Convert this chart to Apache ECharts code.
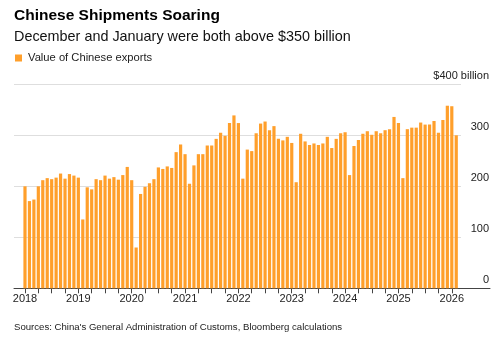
<!DOCTYPE html>
<html>
<head>
<meta charset="utf-8">
<script src="https://cdn.jsdelivr.net/npm/echarts@6/dist/echarts.min.js"></script>
<style>
html,body{margin:0;padding:0;background:#fff;}
#chart{width:500px;height:338px;}
</style>
</head>
<body>
<div id="chart"></div>
<script>
// Year tick labels (one label per January)
const yearLabels = ['2018','2019','2020','2021','2022','2023','2024','2025','2026'];
// Monthly value of Chinese exports, $ billion (Jan..Dec of each year)
const exports2018 = [200, 171, 174, 200, 212, 216, 214, 217, 225, 215, 224, 221];
const exports2019 = [217, 135, 198, 194, 214, 212, 221, 215, 218, 213, 222, 238];
const exports2020 = [212, 80, 185, 199, 206, 214, 237, 234, 239, 236, 267, 282];
const exports2021 = [263, 205, 241, 263, 263, 280, 280, 293, 305, 299, 324, 339];
const exports2022 = [324, 215, 272, 269, 304, 323, 327, 310, 318, 293, 290, 297];
const exports2023 = [285, 208, 303, 288, 281, 284, 281, 284, 297, 275, 293, 304];
const exports2024 = [306, 222, 279, 291, 303, 308, 301, 308, 304, 310, 312, 336];
const exports2025 = [324, 216, 312, 315, 315, 325, 321, 321, 328, 305, 330, 358];
const exports2026 = [357, 300];
const yTicks = [0, 100, 200, 300, 400];

const allValues = [].concat(exports2018, exports2019, exports2020, exports2021,
  exports2022, exports2023, exports2024, exports2025, exports2026);
const barData = allValues.map((v, i) => [i, v]);
const quarterTicks = [];
for (let i = 0; i <= 96; i += 3) quarterTicks.push(i);
const yearTicks = yearLabels.map((y, i) => i * 12);

const font = 'Liberation Sans, Arial, Helvetica, sans-serif';
const chart = echarts.init(document.getElementById('chart'), null, {renderer: 'canvas'});
chart.setOption({
  animation: false,
  backgroundColor: '#fff',
  textStyle: {fontFamily: font},
  title: [
    {text: 'Chinese Shipments Soaring', left: 14, top: 8, padding: 0,
     textStyle: {fontFamily: font, fontSize: 15.5, fontWeight: 'bold', color: '#000'}},
    {text: 'December and January were both above $350 billion', left: 14, top: 30, padding: 0,
     textStyle: {fontFamily: font, fontSize: 14.4, fontWeight: 'normal', color: '#111'}},
    {text: "Sources: China's General Administration of Customs, Bloomberg calculations", left: 14, top: 322, padding: 0,
     textStyle: {fontFamily: font, fontSize: 9.6, fontWeight: 'normal', color: '#222'}}
  ],
  legend: {
    left: 15, top: 52.5, padding: 0, icon: 'rect', itemWidth: 7, itemHeight: 7, itemGap: 10,
    textStyle: {fontFamily: font, fontSize: 11.2, color: '#222', padding: [0, 0, 0, 1]},
    data: ['Value of Chinese exports']
  },
  grid: [
    {left: 14, right: 39, top: 84.3, bottom: 49.7},
    {left: 14, right: 10, top: 84.3, bottom: 49.7}
  ],
  xAxis: [
    {type: 'value', gridIndex: 0, min: -2.474, max: 98.07,
     axisLine: {show: false},
     splitLine: {show: false},
     axisTick: {show: true, customValues: quarterTicks, length: 5, lineStyle: {color: '#444', width: 1}},
     axisLabel: {show: true, customValues: yearTicks, margin: 5,
       formatter: v => yearLabels[Math.round(v / 12)],
       fontFamily: font, fontSize: 11, color: '#222'}},
    {type: 'value', gridIndex: 1, min: 0, max: 1,
     axisLine: {show: true, lineStyle: {color: '#444', width: 1}},
     axisTick: {show: false}, axisLabel: {show: false}, splitLine: {show: false}}
  ],
  yAxis: [
    {type: 'value', gridIndex: 0, position: 'right', min: 0, max: 400, interval: 100,
     axisLine: {show: false}, axisTick: {show: false},
     splitLine: {show: true, lineStyle: {color: '#dedede', width: 1}},
     axisLabel: {align: 'right', margin: 28, verticalAlign: 'bottom', padding: [0, 0, 3, 0],
       formatter: v => (v === 400 ? '$400 billion' : String(v)),
       fontFamily: font, fontSize: 11, color: '#222'}},
    {type: 'value', gridIndex: 1, show: false, min: 0, max: 1, splitLine: {show: false}}
  ],
  series: [
    {name: 'Value of Chinese exports', type: 'bar', xAxisIndex: 0, yAxisIndex: 0,
     barWidth: 3.2, data: barData,
     itemStyle: {color: '#ff9f2b'}}
  ]
});
</script>
</body>
</html>
